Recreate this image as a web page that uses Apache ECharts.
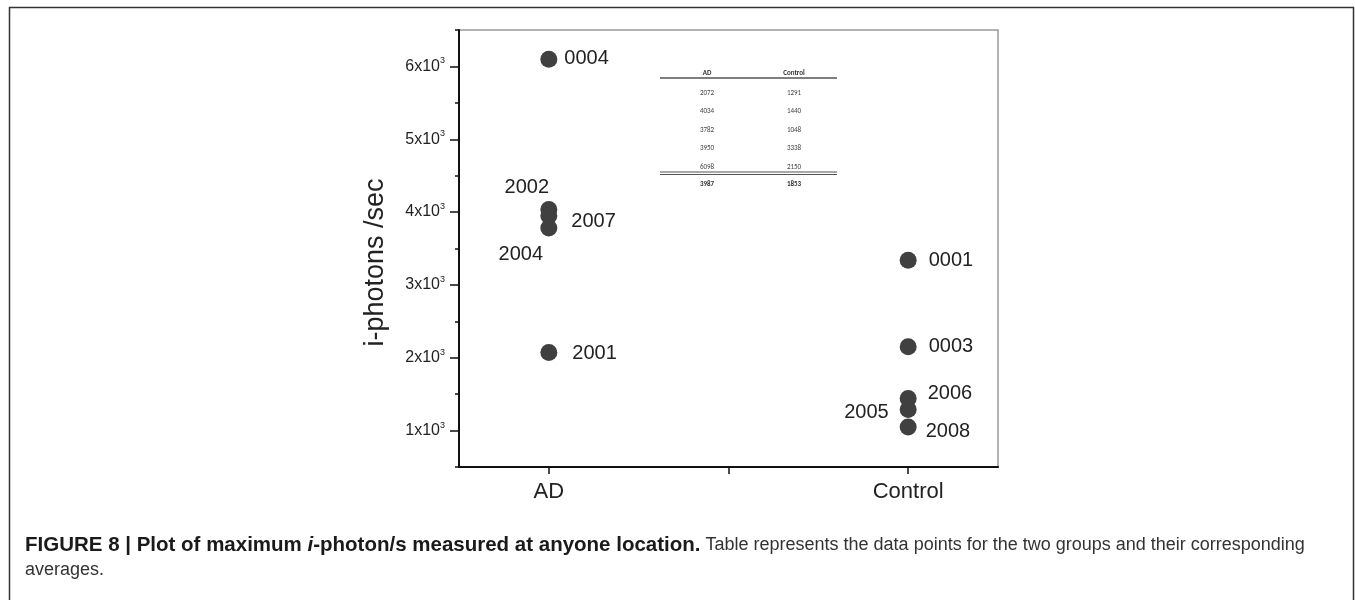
<!DOCTYPE html>
<html lang="en">

<head>
    <meta charset="UTF-8">
    <title>Figure 8</title>
    <style>
        body { margin: 0; background: #fff; }
        #main { width: 1355px; height: 600px; }
    </style>
</head>

<body>
    <div id="main"></div>
    <script src="https://cdn.jsdelivr.net/npm/echarts@6/dist/echarts.min.js"></script>
    <script>
        // groups on the x axis
        var groups = ['AD', 'Control'];
        var groupPos = [1, 3];

        // subject ids and max i-photons/sec, same order as the table
        var adIds = ['2001', '2002', '2004', '2007', '0004'];
        var adValues = [2072, 4034, 3782, 3950, 6098];
        var ctlIds = ['2005', '2006', '2008', '0001', '0003'];
        var ctlValues = [1291, 1440, 1048, 3338, 2150];

        // table averages
        var averages = [3987, 1853];

        var yTicks = [1000, 2000, 3000, 4000, 5000, 6000];

        // where each id label sits next to its dot
        var labelPlace = {
            '0004': { position: 'right', distance: 7, offset: [0, -1] },
            '2002': { position: 'inside', offset: [-22, -22] },
            '2007': { position: 'right', distance: 14, offset: [0, 6] },
            '2004': { position: 'inside', offset: [-28, 27] },
            '2001': { position: 'right', distance: 15, offset: [0, 1] },
            '0001': { position: 'right', distance: 12, offset: [0, 0] },
            '0003': { position: 'right', distance: 12, offset: [0, 0] },
            '2006': { position: 'right', distance: 11, offset: [0, -5] },
            '2005': { position: 'left', distance: 11, offset: [0, 3] },
            '2008': { position: 'right', distance: 9, offset: [0, 4] }
        };

        var FONT = 'Liberation Sans, Arial, sans-serif';

        function points(x, ids, values) {
            var out = [];
            for (var i = 0; i < ids.length; i++) {
                var p = labelPlace[ids[i]];
                out.push({
                    value: [x, values[i]],
                    name: ids[i],
                    label: {
                        show: true,
                        position: p.position,
                        distance: p.distance || 0,
                        offset: p.offset
                    }
                });
            }
            return out;
        }

        // small table drawn as graphic text
        function tableGraphic() {
            var els = [];
            var colX = [707, 794];
            var x0 = 660, x1 = 837;
            var hdr = { fontSize: 7, fontFamily: 'Carlito, Liberation Sans, sans-serif', fill: '#333', align: 'center', verticalAlign: 'middle', fontWeight: 'bold' };
            var txt = { fontSize: 7, fontFamily: 'Carlito, Liberation Sans, sans-serif', fill: '#444', align: 'center', verticalAlign: 'middle' };
            els.push({ type: 'text', x: colX[0], y: 73, style: Object.assign({ text: groups[0] }, hdr) });
            els.push({ type: 'text', x: colX[1], y: 73, style: Object.assign({ text: groups[1] }, hdr) });
            els.push({ type: 'line', shape: { x1: x0, y1: 78, x2: x1, y2: 78 }, style: { stroke: '#555', lineWidth: 1.5 } });
            for (var i = 0; i < adValues.length; i++) {
                var y = 93 + i * 18.5;
                els.push({ type: 'text', x: colX[0], y: y, style: Object.assign({ text: String(adValues[i]) }, txt) });
                els.push({ type: 'text', x: colX[1], y: y, style: Object.assign({ text: String(ctlValues[i]) }, txt) });
            }
            els.push({ type: 'line', shape: { x1: x0, y1: 172, x2: x1, y2: 172 }, style: { stroke: '#555', lineWidth: 1.2 } });
            els.push({ type: 'line', shape: { x1: x0, y1: 174.5, x2: x1, y2: 174.5 }, style: { stroke: '#555', lineWidth: 1.2 } });
            els.push({ type: 'text', x: colX[0], y: 184, style: Object.assign({ text: String(averages[0]) }, hdr) });
            els.push({ type: 'text', x: colX[1], y: 184, style: Object.assign({ text: String(averages[1]) }, hdr) });
            return els;
        }

        var myChart = echarts.init(document.getElementById('main'));

        option = {
            animation: false,
            backgroundColor: '#fff',
            title: {
                left: 20,
                top: 528,
                text: '{b|FIGURE 8 | Plot of maximum }{bi|i}{b|-photon/s measured at anyone location.}{r| Table represents the data points for the two groups and their corresponding}\n{r|averages.}',
                textStyle: {
                    fontFamily: FONT,
                    fontWeight: 'normal',
                    lineHeight: 25,
                    rich: {
                        b: { fontSize: 20.5, fontWeight: 'bold', color: '#1a1a1a', fontFamily: FONT, lineHeight: 25 },
                        bi: { fontSize: 20.5, fontWeight: 'bold', fontStyle: 'italic', color: '#1a1a1a', fontFamily: FONT, lineHeight: 25 },
                        r: { fontSize: 18, fontWeight: 'normal', color: '#333', fontFamily: FONT, lineHeight: 25 }
                    }
                }
            },
            graphic: [{
                type: 'rect',
                shape: { x: 9.5, y: 7.5, width: 1344, height: 620 },
                style: { fill: 'none', stroke: '#333', lineWidth: 1.5 },
                silent: true
            }].concat(tableGraphic()),
            grid: {
                left: 459,
                right: 357,
                top: 30,
                bottom: 133,
                show: true,
                borderColor: '#999',
                borderWidth: 1.5
            },
            xAxis: {
                type: 'value',
                min: 0.5,
                max: 3.5,
                splitLine: { show: false },
                axisLine: { show: true, onZero: false, lineStyle: { color: '#111', width: 2 } },
                axisTick: { show: true, length: 7, customValues: [1, 2, 3], lineStyle: { color: '#111', width: 1.5 } },
                axisLabel: {
                    customValues: groupPos,
                    margin: 14,
                    fontSize: 22,
                    fontFamily: FONT,
                    color: '#222',
                    formatter: function (v) {
                        return groups[groupPos.indexOf(v)] || '';
                    }
                }
            },
            yAxis: [{
                type: 'value',
                min: 500,
                max: 6500,
                name: 'i-photons /sec',
                nameLocation: 'middle',
                nameGap: 70,
                nameTextStyle: { fontSize: 27, fontFamily: FONT, color: '#222', padding: [0, 28, 0, 0] },
                splitLine: { show: false },
                axisLine: { show: true, onZero: false, lineStyle: { color: '#111', width: 2 } },
                axisTick: { show: true, length: 9, customValues: yTicks, lineStyle: { color: '#111', width: 1.5 } },
                axisLabel: {
                    customValues: yTicks,
                    margin: 14,
                    fontFamily: FONT,
                    color: '#222',
                    formatter: function (v) {
                        return '{m|' + (v / 1000) + 'x10}{s|3}';
                    },
                    rich: {
                        m: { fontSize: 16, fontFamily: FONT, color: '#222', lineHeight: 20 },
                        s: { fontSize: 9, fontFamily: FONT, color: '#222', verticalAlign: 'top', lineHeight: 20, padding: [0, 0, 10, 0] }
                    }
                }
            }, {
                type: 'value',
                min: 500,
                max: 6500,
                interval: 500,
                position: 'left',
                splitLine: { show: false },
                axisLine: { show: false },
                axisLabel: { show: false },
                axisTick: { show: true, length: 4, lineStyle: { color: '#111', width: 1.5 } }
            }],
            series: [{
                type: 'scatter',
                name: groups[0],
                symbolSize: 17,
                itemStyle: { color: '#404040', opacity: 1 },
                label: { color: '#222', fontSize: 20, fontFamily: FONT, formatter: '{b}' },
                data: points(groupPos[0], adIds, adValues)
            }, {
                type: 'scatter',
                name: groups[1],
                symbolSize: 17,
                itemStyle: { color: '#404040', opacity: 1 },
                label: { color: '#222', fontSize: 20, fontFamily: FONT, formatter: '{b}' },
                data: points(groupPos[1], ctlIds, ctlValues)
            }]
        };

        myChart.setOption(option);
    </script>

</body>

</html>
